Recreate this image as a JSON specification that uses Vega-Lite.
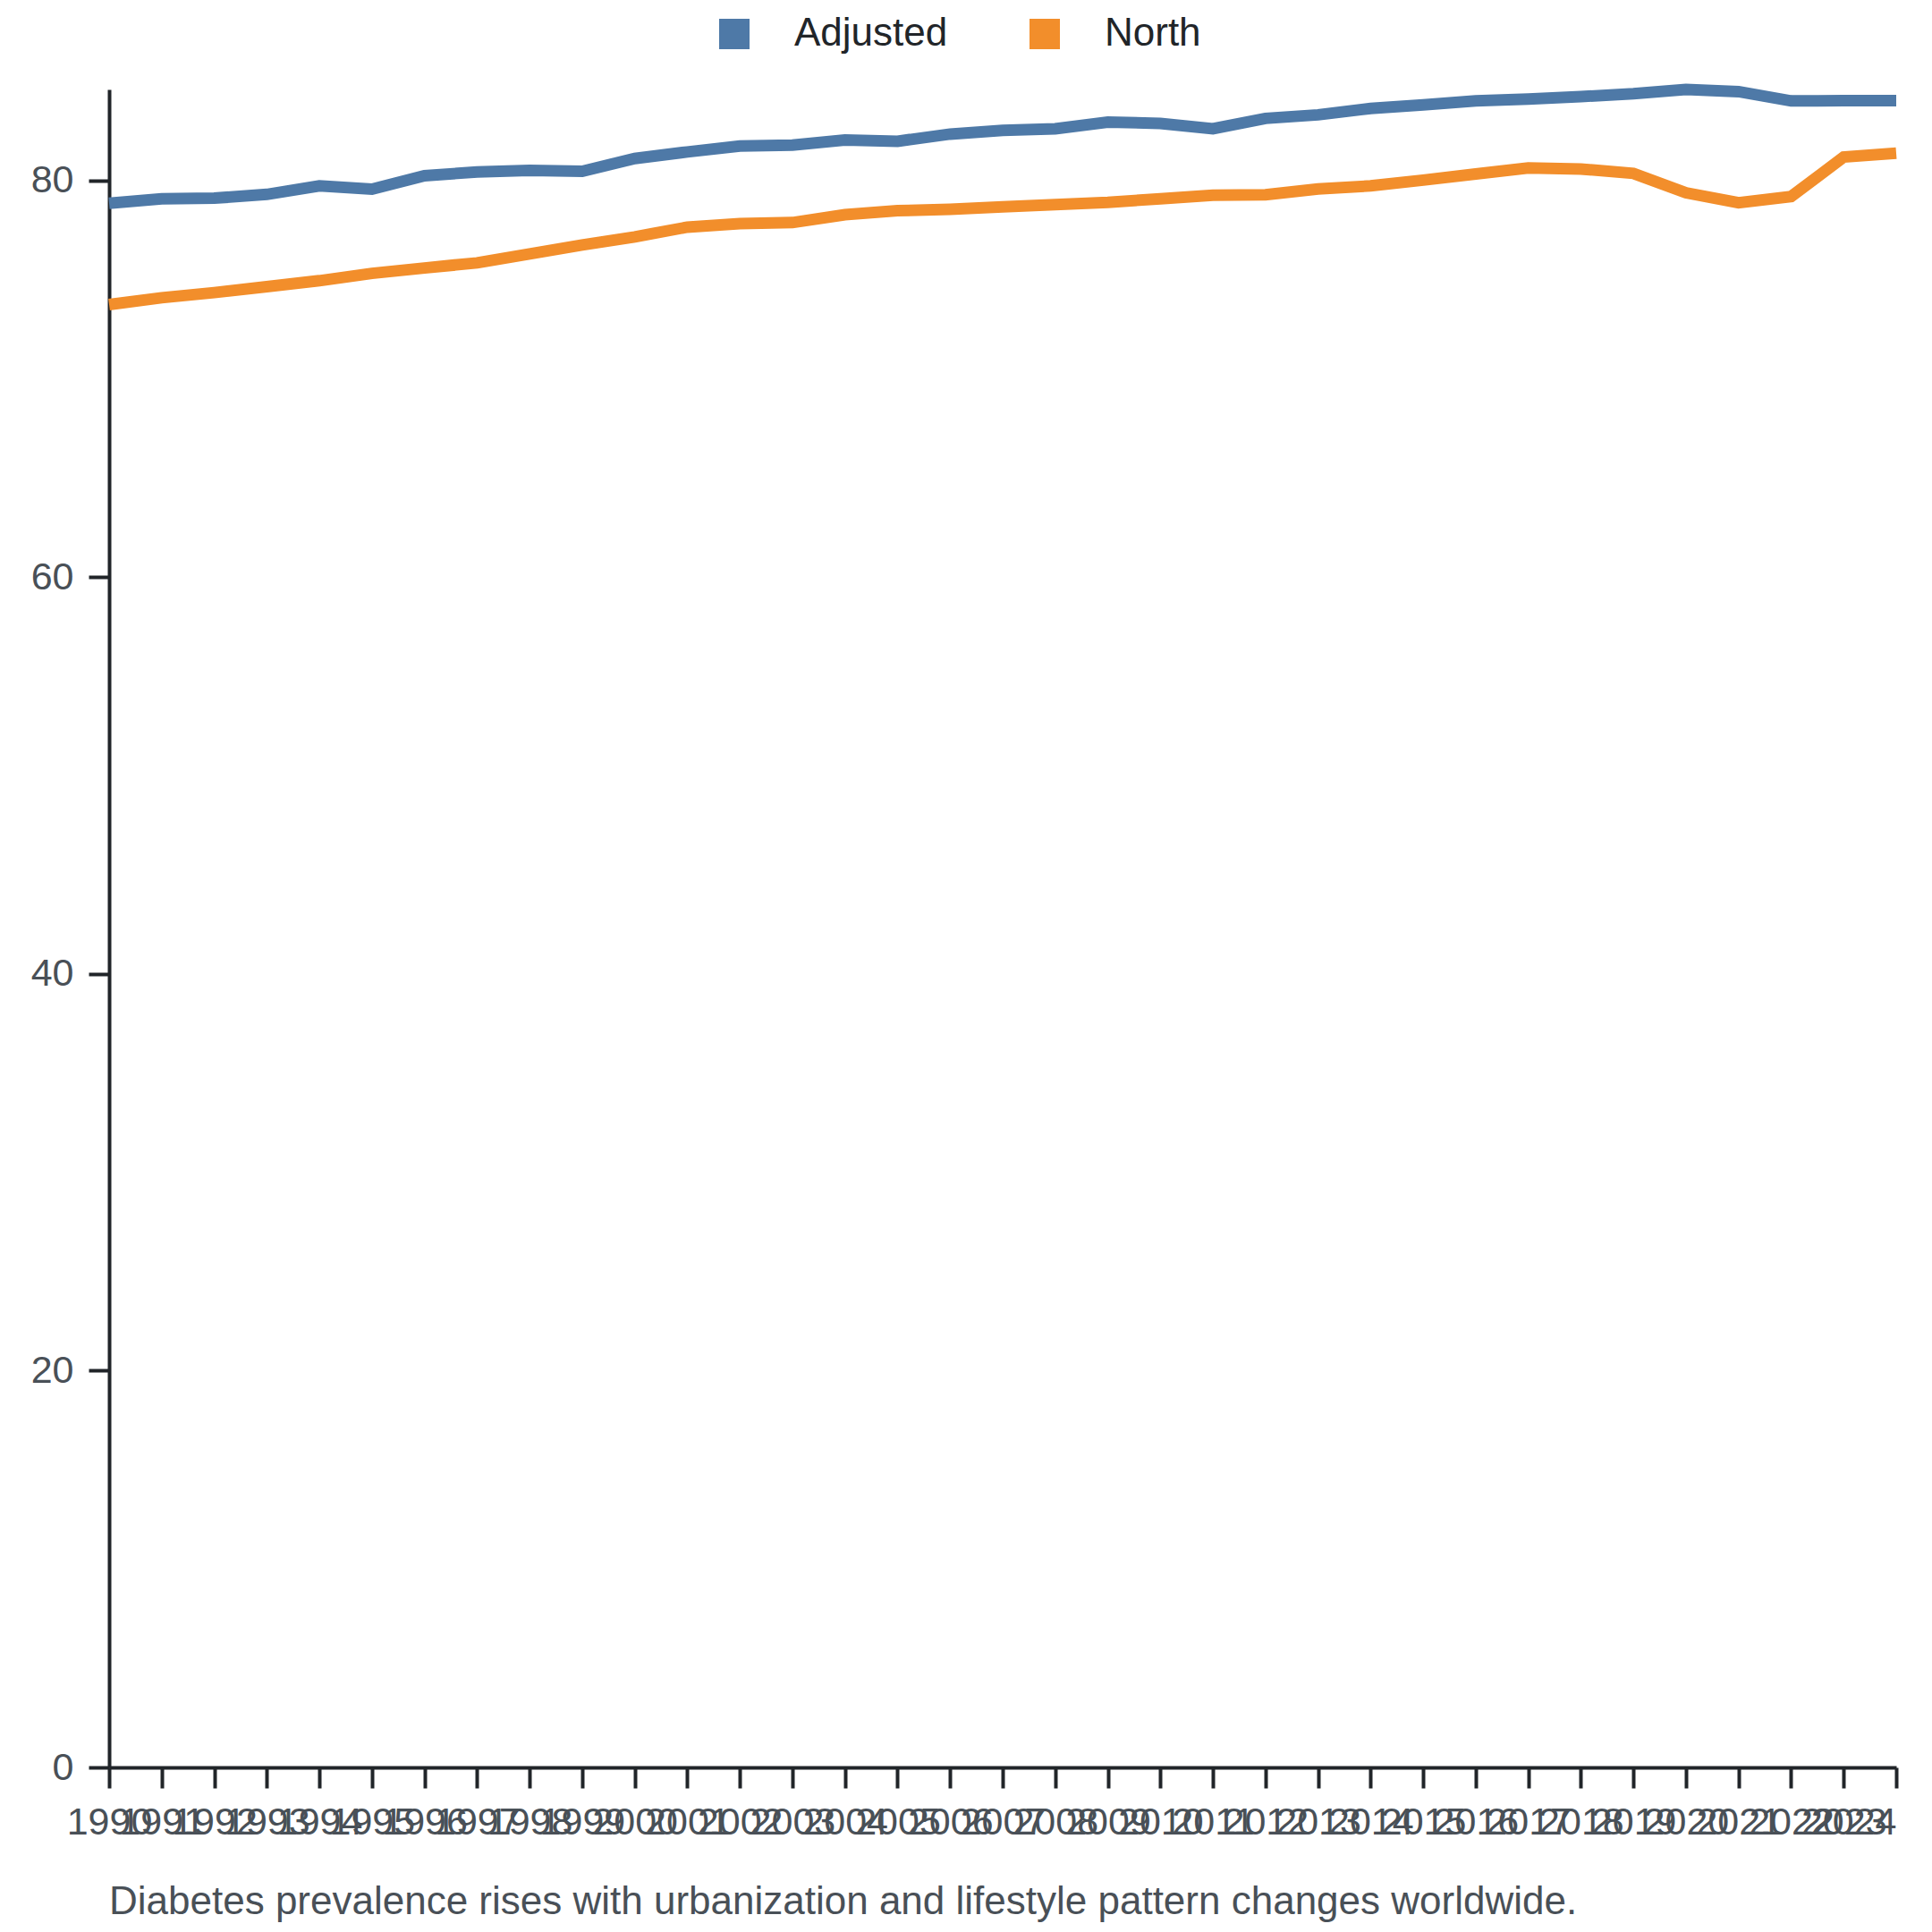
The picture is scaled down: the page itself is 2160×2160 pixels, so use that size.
{
  "$schema": "https://vega.github.io/schema/vega-lite/v6.json",
  "autosize": {"type": "none"},
  "width": 1998,
  "height": 1876,
  "padding": {"left": 122, "top": 100, "right": 40, "bottom": 184},
  "background": "white",
  "title": {
    "text": "Diabetes prevalence rises with urbanization and lifestyle pattern changes worldwide.",
    "orient": "bottom",
    "anchor": "start",
    "frame": "group",
    "fontSize": 44,
    "fontWeight": "normal",
    "font": "Liberation Sans",
    "color": "#495057",
    "offset": 46
  },
  "data": {
    "values": [
      {"year": "1990", "series": "Adjusted", "value": 78.84},
      {"year": "1991", "series": "Adjusted", "value": 79.07},
      {"year": "1992", "series": "Adjusted", "value": 79.10},
      {"year": "1993", "series": "Adjusted", "value": 79.29},
      {"year": "1994", "series": "Adjusted", "value": 79.72},
      {"year": "1995", "series": "Adjusted", "value": 79.55},
      {"year": "1996", "series": "Adjusted", "value": 80.23},
      {"year": "1997", "series": "Adjusted", "value": 80.42},
      {"year": "1998", "series": "Adjusted", "value": 80.50},
      {"year": "1999", "series": "Adjusted", "value": 80.45},
      {"year": "2000", "series": "Adjusted", "value": 81.10},
      {"year": "2001", "series": "Adjusted", "value": 81.43},
      {"year": "2002", "series": "Adjusted", "value": 81.73},
      {"year": "2003", "series": "Adjusted", "value": 81.77},
      {"year": "2004", "series": "Adjusted", "value": 82.03},
      {"year": "2005", "series": "Adjusted", "value": 81.97},
      {"year": "2006", "series": "Adjusted", "value": 82.33},
      {"year": "2007", "series": "Adjusted", "value": 82.52},
      {"year": "2008", "series": "Adjusted", "value": 82.60},
      {"year": "2009", "series": "Adjusted", "value": 82.93},
      {"year": "2010", "series": "Adjusted", "value": 82.87},
      {"year": "2011", "series": "Adjusted", "value": 82.60},
      {"year": "2012", "series": "Adjusted", "value": 83.12},
      {"year": "2013", "series": "Adjusted", "value": 83.30},
      {"year": "2014", "series": "Adjusted", "value": 83.62},
      {"year": "2015", "series": "Adjusted", "value": 83.80},
      {"year": "2016", "series": "Adjusted", "value": 84.00},
      {"year": "2017", "series": "Adjusted", "value": 84.10},
      {"year": "2018", "series": "Adjusted", "value": 84.22},
      {"year": "2019", "series": "Adjusted", "value": 84.37},
      {"year": "2020", "series": "Adjusted", "value": 84.58},
      {"year": "2021", "series": "Adjusted", "value": 84.47},
      {"year": "2022", "series": "Adjusted", "value": 84.00},
      {"year": "2023", "series": "Adjusted", "value": 84.02},
      {"year": "2024", "series": "Adjusted", "value": 84.02},
      {"year": "1990", "series": "North", "value": 73.74},
      {"year": "1991", "series": "North", "value": 74.08},
      {"year": "1992", "series": "North", "value": 74.34},
      {"year": "1993", "series": "North", "value": 74.64},
      {"year": "1994", "series": "North", "value": 74.94},
      {"year": "1995", "series": "North", "value": 75.31},
      {"year": "1996", "series": "North", "value": 75.58},
      {"year": "1997", "series": "North", "value": 75.84},
      {"year": "1998", "series": "North", "value": 76.29},
      {"year": "1999", "series": "North", "value": 76.74},
      {"year": "2000", "series": "North", "value": 77.15},
      {"year": "2001", "series": "North", "value": 77.64},
      {"year": "2002", "series": "North", "value": 77.82},
      {"year": "2003", "series": "North", "value": 77.87},
      {"year": "2004", "series": "North", "value": 78.27},
      {"year": "2005", "series": "North", "value": 78.47},
      {"year": "2006", "series": "North", "value": 78.54},
      {"year": "2007", "series": "North", "value": 78.66},
      {"year": "2008", "series": "North", "value": 78.77},
      {"year": "2009", "series": "North", "value": 78.89},
      {"year": "2010", "series": "North", "value": 79.07},
      {"year": "2011", "series": "North", "value": 79.25},
      {"year": "2012", "series": "North", "value": 79.27},
      {"year": "2013", "series": "North", "value": 79.56},
      {"year": "2014", "series": "North", "value": 79.72},
      {"year": "2015", "series": "North", "value": 80.01},
      {"year": "2016", "series": "North", "value": 80.32},
      {"year": "2017", "series": "North", "value": 80.62},
      {"year": "2018", "series": "North", "value": 80.57},
      {"year": "2019", "series": "North", "value": 80.35},
      {"year": "2020", "series": "North", "value": 79.37},
      {"year": "2021", "series": "North", "value": 78.87},
      {"year": "2022", "series": "North", "value": 79.18},
      {"year": "2023", "series": "North", "value": 81.17},
      {"year": "2024", "series": "North", "value": 81.37}
    ]
  },
  "mark": {"type": "line", "strokeWidth": 13},
  "encoding": {
    "x": {
      "field": "year",
      "type": "ordinal",
      "scale": {"type": "point", "padding": 0},
      "axis": {
        "title": null,
        "labelAngle": 0,
        "labelOverlap": false,
        "labelFontSize": 43,
        "labelFont": "Liberation Sans",
        "labelColor": "#495057",
        "labelPadding": 17,
        "labelAlign": {"condition": {"test": "datum.value === '2024'", "value": "right"}, "value": "center"},
        "tickSize": 23,
        "tickWidth": 4,
        "tickColor": "#212529",
        "domainWidth": 4,
        "domainColor": "#212529",
        "grid": false
      }
    },
    "y": {
      "field": "value",
      "type": "quantitative",
      "scale": {"zero": true, "nice": false},
      "axis": {
        "title": null,
        "values": [0, 20, 40, 60, 80],
        "labelFontSize": 43,
        "labelFont": "Liberation Sans",
        "labelColor": "#495057",
        "labelPadding": 17,
        "tickSize": 23,
        "tickWidth": 4,
        "tickColor": "#212529",
        "domainWidth": 4,
        "domainColor": "#212529",
        "grid": false
      }
    },
    "color": {
      "field": "series",
      "type": "nominal",
      "scale": {"range": ["#4e79a7", "#f28e2b"]},
      "legend": {
        "title": null,
        "orient": "none",
        "direction": "horizontal",
        "legendX": 677,
        "legendY": -84,
        "symbolType": "square",
        "symbolSize": 1156,
        "symbolStrokeWidth": 0,
        "labelFontSize": 44,
        "labelFont": "Liberation Sans",
        "labelColor": "#212529",
        "labelLimit": 500,
        "labelOffset": 45,
        "columnPadding": 86,
        "encode": {
          "symbols": {
            "update": {
              "fill": {"scale": "color", "field": "value"},
              "opacity": {"value": 1}
            }
          }
        }
      }
    }
  },
  "config": {
    "view": {"stroke": null},
    "font": "Liberation Sans"
  }
}
